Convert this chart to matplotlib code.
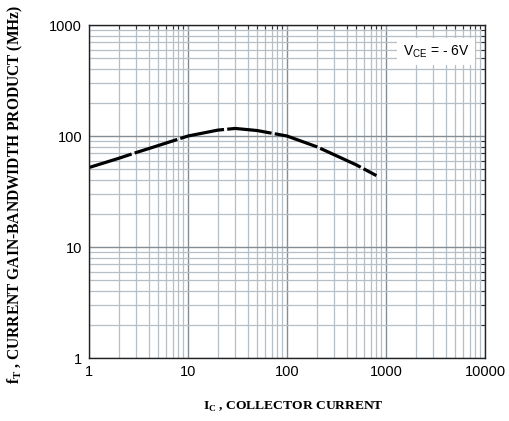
import matplotlib
matplotlib.use("Agg")
import matplotlib.pyplot as plt
import numpy as np
from matplotlib.ticker import LogLocator, NullFormatter, FixedLocator

# Data
ic_ma = [1, 2, 3, 5, 10, 20, 30, 50, 100, 200, 500, 800]
ft_mhz = [52, 63, 71, 82, 100, 113, 117, 112, 100, 80, 55, 44]

x_ticks = [1, 10, 100, 1000, 10000]
x_ticklabels = ["1", "10", "100", "1000", "10000"]
y_ticks = [1, 10, 100, 1000]
y_ticklabels = ["1", "10", "100", "1000"]

fig = plt.figure(figsize=(5.10, 4.21), dpi=100)
ax = fig.add_axes([0.1745, 0.1496, 0.7765, 0.791])
ax.set_xscale("log")
ax.set_yscale("log")
ax.set_xlim(1, 10000)
ax.set_ylim(1, 1000)

ax.xaxis.set_major_locator(FixedLocator(x_ticks))
ax.yaxis.set_major_locator(FixedLocator(y_ticks))
ax.set_xticklabels(x_ticklabels)
ax.set_yticklabels(y_ticklabels)
ax.xaxis.set_minor_locator(LogLocator(base=10, subs=np.arange(2, 10)))
ax.yaxis.set_minor_locator(LogLocator(base=10, subs=np.arange(2, 10)))
ax.xaxis.set_minor_formatter(NullFormatter())
ax.yaxis.set_minor_formatter(NullFormatter())

ax.grid(which="major", color="#848c94", linewidth=1.0)
ax.grid(which="minor", color="#b6bec6", linewidth=0.9)
ax.set_axisbelow(True)

ax.tick_params(which="minor", direction="in", top=True, right=True, bottom=False,
               left=False, length=3, width=0.8, color="#333333")
ax.tick_params(which="major", length=0, labelsize=10.5, pad=5)
for lab in ax.get_xticklabels() + ax.get_yticklabels():
    lab.set_fontfamily("Liberation Sans")
for s in ax.spines.values():
    s.set_color("#222222")
    s.set_linewidth(1.0)

ax.plot(ic_ma, ft_mhz, color="black", linewidth=2.3, dashes=(14, 1.0))

ax.text(0.96, 0.92, r"V$_{\mathregular{CE}}$ = - 6V", transform=ax.transAxes,
        ha="right", va="center", fontsize=10, fontfamily="Liberation Sans",
        bbox=dict(facecolor="white", edgecolor="none", pad=4))

fig.text(0.575, 0.033, r"I$_{\mathregular{C}}$ , COLLECTOR CURRENT", ha="center", va="center",
         fontsize=9.7, fontweight="bold", fontfamily="Liberation Serif")
fig.text(0.03, 0.539, r"f$_{\mathregular{T}}$ , CURRENT GAIN-BANDWIDTH PRODUCT (MHz)",
         ha="center", va="center", rotation=90,
         fontsize=11.2, fontweight="bold", fontfamily="Liberation Serif")

fig.savefig("out.png", dpi=100)
